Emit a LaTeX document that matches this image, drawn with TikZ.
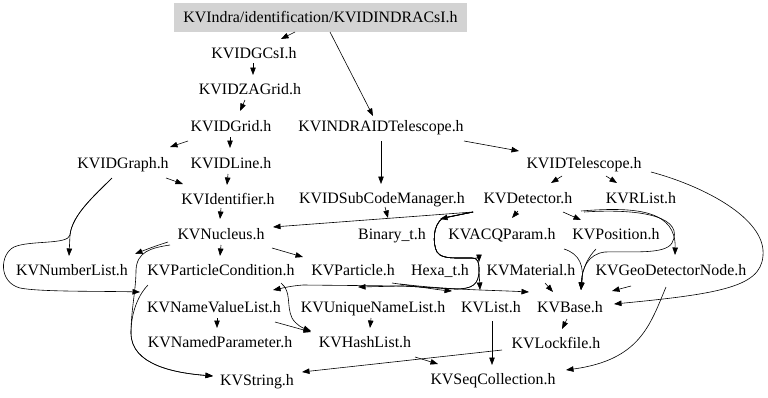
\documentclass[tikz,border=0pt]{standalone}
\usepackage{fontspec}
\setmainfont{Liberation Serif}
\usetikzlibrary{arrows.meta,calc}
\definecolor{rootgray}{HTML}{D3D3D3}
\begin{document}
\begin{tikzpicture}[x=1pt,y=-1pt,
  hdr/.style={inner sep=0pt, text height=10.5pt, text depth=0pt,
              font=\fontsize{15.9}{18}\selectfont},
  dep/.style={draw=black, line width=0.6pt, -{Triangle[length=7.5pt,width=5.5pt]}}]
\useasboundingbox (0,0) rectangle (768,397);

% headers
\node[hdr, fill=rootgray, minimum width=293pt, minimum height=29pt] (root) at (320.5,17.5) {KVIndra/identification/KVIDINDRACsI.h};
\node[hdr] (GCsI)       at (254,53)  {KVIDGCsI.h};
\node[hdr] (ZAGrid)     at (250,89)  {KVIDZAGrid.h};
\node[hdr] (IDGrid)     at (231,126) {KVIDGrid.h};
\node[hdr] (INDRATel)   at (381,126) {KVINDRAIDTelescope.h};
\node[hdr] (IDGraph)    at (123,163) {KVIDGraph.h};
\node[hdr] (IDLine)     at (231,163) {KVIDLine.h};
\node[hdr] (IDTel)      at (584,163) {KVIDTelescope.h};
\node[hdr] (Identifier) at (228,199) {KVIdentifier.h};
\node[hdr] (SubCode)    at (382,198) {KVIDSubCodeManager.h};
\node[hdr] (Detector)   at (528,198) {KVDetector.h};
\node[hdr] (RList)      at (641,198) {KVRList.h};
\node[hdr] (Nucleus)    at (221,234) {KVNucleus.h};
\node[hdr] (Binary)     at (392,234) {Binary\_t.h};
\node[hdr] (ACQ)        at (502,234) {KVACQParam.h};
\node[hdr] (Position)   at (616,234) {KVPosition.h};
\node[hdr] (NumberList) at (72,270)  {KVNumberList.h};
\node[hdr] (PartCond)   at (221,270) {KVParticleCondition.h};
\node[hdr] (Particle)   at (353,270) {KVParticle.h};
\node[hdr] (Hexa)       at (440,270) {Hexa\_t.h};
\node[hdr] (Material)   at (531,270) {KVMaterial.h};
\node[hdr] (GeoNode)    at (671,270) {KVGeoDetectorNode.h};
\node[hdr] (NVList)     at (214,307) {KVNameValueList.h};
\node[hdr] (UNList)     at (373,307) {KVUniqueNameList.h};
\node[hdr] (List)       at (491,307) {KVList.h};
\node[hdr] (Base)       at (570,307) {KVBase.h};
\node[hdr] (NamedPar)   at (220,342) {KVNamedParameter.h};
\node[hdr] (HashList)   at (365,342) {KVHashList.h};
\node[hdr] (Lockfile)   at (556,343) {KVLockfile.h};
\node[hdr] (String)     at (257,380) {KVString.h};
\node[hdr] (SeqColl)    at (493,379) {KVSeqCollection.h};

% include edges
\draw[dep] ($(root)+(-25.5,14.5)$) -- ($(GCsI)+(27,-14)$);
\draw[dep] ($(root)+(9.5,14.5)$) -- ($(INDRATel)+(-8,-10)$);
\draw[dep] ($(GCsI)+(-1,10)$) -- ($(ZAGrid)+(3,-14)$);
\draw[dep] ($(ZAGrid)+(-5,11)$) -- ($(IDGrid)+(9,-15)$);
\draw[dep] ($(IDGrid)+(-43,15)$) -- ($(IDGraph)+(47,-16)$);
\draw[dep] ($(IDGrid)+(-1,11)$) -- ($(IDLine)+(-1,-15)$);
\draw[dep] ($(INDRATel)+(83,15)$) -- ($(IDTel)+(-65,-12)$);
\draw[dep] ($(INDRATel)+(0,15)$) -- ($(SubCode)+(-1,-14)$);
\draw[dep] ($(IDGraph)+(43,15)$) -- ($(Identifier)+(-45,-15)$);
\draw[dep] ($(IDLine)+(-3,11)$) -- ($(Identifier)+(-1,-14)$);
\draw[dep] ($(IDTel)+(-22,13)$) -- ($(Detector)+(23,-15)$);
\draw[dep] ($(IDTel)+(22,13)$) -- ($(RList)+(-24,-15)$);
\draw[dep] ($(IDTel)+(67,9)$) .. controls (700,185) and (760,215) .. (763,250)
           .. controls (765,285) and (730,293) .. ($(Base)+(44,-3)$);
\draw[dep] ($(Identifier)+(-7,9)$) -- ($(Nucleus)+(-1,-15)$);
\draw[dep] ($(Detector)+(-55,14)$) -- ($(Nucleus)+(52,-7)$);
\draw[dep] ($(SubCode)+(3,9)$) -- ($(Binary)+(-4,-16)$);
\draw[dep] ($(Detector)+(-10,13)$) -- ($(ACQ)+(10,-16)$);
\draw[dep] ($(Detector)+(35,14)$) -- ($(Position)+(-35,-14)$);
\draw[dep] ($(Detector)+(53,13)$) .. controls (640,206) and (676,212) .. ($(GeoNode)+(4,-15)$);
\draw[dep] ($(Detector)+(56,14)$) .. controls (645,208) and (685,218) .. (672,243)
           .. controls (665,255) and (630,251) .. (605,252)
           .. controls (588,254) and (582,268) .. ($(Base)+(11,-17)$);
\draw[dep] ($(Position)+(-20,15)$) .. controls (589,256) and (582,268) .. ($(Base)+(11,-17)$);
\draw[dep] ($(ACQ)+(62,15)$) .. controls (580,254) and (584,266) .. ($(Base)+(11,-17)$);
\draw[dep] ($(Material)+(14,13)$) -- ($(Base)+(-17,-15)$);
\draw[dep] ($(GeoNode)+(-40,16)$) -- ($(Base)+(42,-16)$);
\draw[dep] ($(GeoNode)+(-5,17)$) .. controls (650,325) and (640,360) .. ($(SeqColl)+(73,-9)$);
\draw[dep] ($(Base)+(-3,12)$) -- ($(Lockfile)+(6,-14)$);
\draw[dep] ($(List)+(1,14)$) -- ($(SeqColl)+(-1,-14)$);
\draw[dep] ($(Lockfile)+(-54,7)$) -- ($(String)+(45,-8)$);
\draw[dep] ($(HashList)+(50,15)$) -- ($(SeqColl)+(-55,-15)$);
\draw[dep] ($(Nucleus)+(0,11)$) -- ($(PartCond)+(-1,-14)$);
\draw[dep] ($(Nucleus)+(51,14)$) -- ($(Particle)+(-50,-13)$);
\draw[dep] ($(Nucleus)+(-53,8)$) .. controls (155,246) and (145,250) .. ($(NumberList)+(63,-16)$);
\draw[dep] ($(Nucleus)+(-51,11)$) .. controls (150,248) and (137,252) .. (136,270)
           .. controls (136,290) and (131,310) .. (131,333)
           .. controls (131,365) and (175,373) .. ($(String)+(-44,-4)$);
\draw[dep] ($(PartCond)+(-73,15)$) .. controls (140,293) and (131,310) .. (131,333)
           .. controls (131,365) and (175,373) .. ($(String)+(-44,-4)$);
\draw[dep] ($(IDGraph)+(-11,15)$) .. controls (95,195) and (72,215) .. (70,235) -- ($(NumberList)+(-3,-14)$);
\draw[dep] ($(IDGraph)+(-11,15)$) .. controls (95,195) and (72,215) .. (70,235)
           .. controls (68,245) and (30,240) .. (14,247)
           .. controls (0,254) and (-2,282) .. (20,288)
           .. controls (40,292) and (100,291) .. ($(NVList)+(-74,-15)$);
\draw[dep] ($(NVList)+(3,11)$) -- ($(NamedPar)+(-3,-14)$);
\draw[dep] ($(NVList)+(61,15)$) -- ($(HashList)+(-54,-10)$);
\draw[dep] ($(UNList)+(-2,11)$) -- ($(HashList)+(5,-14)$);
\draw[dep] ($(PartCond)+(60,13)$) .. controls (292,292) and (286,305) .. (292,318)
           .. controls (296,325) and (303,328) .. ($(HashList)+(-54,-11)$);
\draw[dep] ($(Detector)+(-55,14)$) -- ($(Binary)+(48,-15)$);
\draw[dep] ($(Detector)+(-55,14)$) -- (443,218) .. controls (432,225) and (433,245) .. (437,252)
           .. controls (440,257) and (448,258) .. (458,258) -- (472,258)
           .. controls (477,258) and (479,259) .. ($(Hexa)+(39,-8)$);
\draw[dep] ($(Detector)+(-55,14)$) -- (443,218) .. controls (432,225) and (433,245) .. (437,252)
           .. controls (440,257) and (448,258) .. (458,258) -- (472,258)
           .. controls (478,258) and (479,262) .. (479,270) -- ($(List)+(-11,-17)$);
\draw[dep] ($(Detector)+(-55,14)$) -- (443,218) .. controls (432,225) and (433,245) .. (437,252)
           .. controls (440,257) and (448,258) .. (458,258) -- (472,258)
           .. controls (478,258) and (479,262) .. (479,270)
           .. controls (479,285) and (472,289) .. (455,289) -- (403,286) -- ($(UNList)+(-15,-20)$);
\draw[dep] ($(Detector)+(-55,14)$) -- (443,218) .. controls (432,225) and (433,245) .. (437,252)
           .. controls (440,257) and (448,258) .. (458,258) -- (472,258)
           .. controls (478,258) and (479,262) .. (479,270)
           .. controls (479,285) and (472,289) .. (455,289) -- (403,286) -- (303,285)
           .. controls (290,286) and (283,288) .. ($(NVList)+(59,-17)$);
\draw[dep] ($(Particle)+(39,13)$) .. controls (420,287) and (440,290) .. ($(List)+(-39,-16)$);
\draw[dep] ($(Particle)+(47,14)$) .. controls (450,290) and (490,290) .. ($(Base)+(-41,-15)$);
\end{tikzpicture}
\end{document}
